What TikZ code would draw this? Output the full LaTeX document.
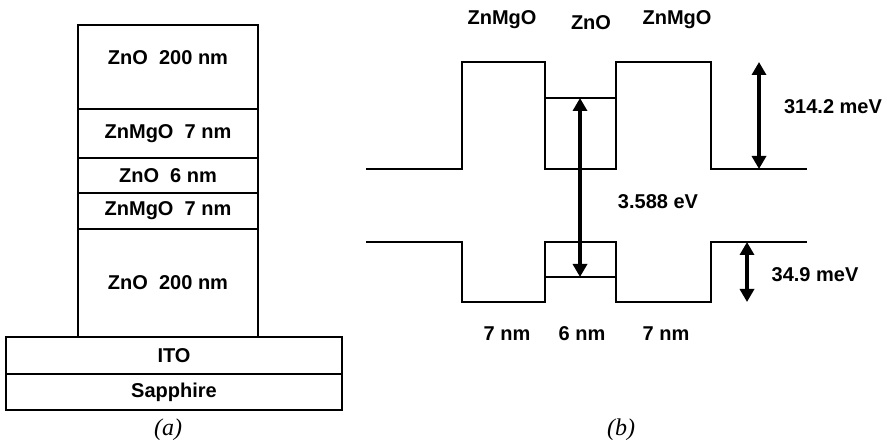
\documentclass[tikz,border=0pt]{standalone}
\usepackage{fontspec}
\setmainfont{Liberation Sans}
\newfontfamily\capfont{Liberation Serif}
\usepackage{tikz}
\usetikzlibrary{arrows.meta, positioning}
\tikzset{
  layer/.style={
    rectangle, draw=black, line width=0.6pt, minimum width=90pt, outer sep=0pt,
    inner sep=0pt, align=center, font=\fontsize{10}{12}\selectfont\bfseries
  },
  substrate/.style={
    layer, minimum width=168pt
  },
  label/.style={font=\fontsize{10}{12}\selectfont\bfseries, inner sep=1pt},
  caption/.style={font=\fontsize{12}{14}\selectfont\capfont\itshape, inner sep=1pt},
  band/.style={draw=black, line width=0.6pt},
  gap/.style={{Triangle[length=6.5pt,width=7pt]}-{Triangle[length=6.5pt,width=7pt]}, line width=1.7pt},
}
\begin{document}
\begin{tikzpicture}[x=0.5pt, y=-0.5pt]
    \useasboundingbox (0,0) rectangle (887,442);

    %% Layer stack
    \node[layer, minimum height=42pt] (zno1) at (168,67) {\raisebox{1pt}[0pt][0pt]{ZnO\ \ 200 nm}};
    \node[layer, minimum height=24.5pt, below=0pt of zno1] (mg1) {ZnMgO\ \ 7 nm};
    \node[layer, minimum height=17.5pt, below=0pt of mg1] (well) {ZnO\ \ 6 nm};
    \node[layer, minimum height=18pt, below=0pt of well] (mg2) {ZnMgO\ \ 7 nm};
    \node[layer, minimum height=54pt, below=0pt of mg2] (zno2) {ZnO\ \ 200 nm};
    \node[substrate, minimum height=18.5pt, below=0pt of zno2, xshift=3pt] (ito) {ITO};
    \node[substrate, minimum height=18pt, below=0pt of ito] (sap) {Sapphire};
    \node[caption] (capa) at (168,430) {(a)};

    %% Conduction band
    \draw[band] (366,169) -- (462,169) -- (462,62) -- (545,62) -- (545,169)
      -- (616,169) -- (616,62) -- (711,62) -- (711,169) -- (807,169);
    \draw[band] (545,98) -- (616,98);

    %% Valence band
    \draw[band] (366,242) -- (462,242) -- (462,302) -- (545,302) -- (545,242)
      -- (616,242) -- (616,302) -- (711,302) -- (711,242) -- (807,242);
    \draw[band] (545,277) -- (616,277);

    %% Arrow ends
    \coordinate (ce) at (580,98);
    \coordinate (he) at (580,277);
    \coordinate (cbtop) at (759,62);
    \coordinate (cbbot) at (759,169);
    \coordinate (vbtop) at (747,242);
    \coordinate (vbbot) at (747,302);

    %% Arrows
    \draw[gap] (ce) -- (he);
    \draw[gap] (cbtop) -- (cbbot);
    \draw[gap] (vbtop) -- (vbbot);

    %% Labels
    \node[label] (lmg1) at (502,20) {ZnMgO};
    \node[label] (lzno) at (591,23) {ZnO};
    \node[label] (lmg2) at (677,20) {ZnMgO};
    \node[label] (lcb) at (833,107) {314.2 meV};
    \node[label] (lgap) at (658,202) {3.588 eV};
    \node[label] (lvb) at (815,275) {34.9 meV};
    \node[label] (w1) at (507,334) {7 nm};
    \node[label] (w2) at (582,334) {6 nm};
    \node[label] (w3) at (666,334) {7 nm};
    \node[caption] (capb) at (621,430) {(b)};

  \end{tikzpicture}
\end{document}
